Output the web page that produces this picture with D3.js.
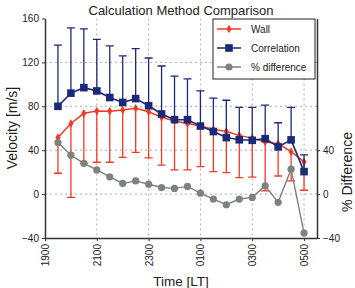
<!DOCTYPE html>
<html>
<head>
<meta charset="utf-8">
<script src="https://cdn.jsdelivr.net/npm/d3@7"></script>
<style>
  body { margin: 0; background: #fff; }
  svg text { font-family: "Liberation Sans", Arial, sans-serif; fill: #222; }
</style>
</head>
<body>
<div id="chart"></div>
<script>
// hours since midnight of the first day (19.5 = 1930 LT, 29 = 0500 LT)
const hours = [19.5, 20, 20.5, 21, 21.5, 22, 22.5, 23, 23.5, 24, 24.5, 25, 25.5, 26, 26.5, 27, 27.5, 28, 28.5, 29]
const wall = [51.5, 64.3, 73.6, 75.7, 75.5, 76.6, 78.2, 75, 70, 66.7, 64.3, 62, 59, 57, 53.5, 51, 47.5, 46, 38.7, 29.4]
const wallLow = [19, -3, 28, 29, 29, 33.5, 38, 33, 26.4, 22, 22, 25, 20.5, 19.5, 15, 15.5, 3, 16.5, 12, 3.5]
const corr = [80, 92, 97, 94, 88, 83.5, 87, 80.5, 73, 67.8, 67.8, 62, 57, 51.5, 49.5, 49, 50.5, 43, 49.4, 20.5]
const corrHigh = [135.7, 151.5, 150.6, 141, 135, 126, 132.5, 124, 116.7, 107.5, 105, 94, 87.5, 85.5, 79, 79, 81, 65, 79, 35.7]
const pctDiff = [47, 35.5, 28, 22, 15.7, 9.7, 12, 9, 6, 5.2, 7, 0.8, -4.5, -9.7, -4.5, -3, 7.5, -7.5, 22.7, -35.5]

const xTicks = [19, 21, 23, 25, 27, 29]
const xTickLabels = ['1900', '2100', '2300', '0100', '0300', '0500']
const yTicks = [-40, 0, 40, 80, 120, 160]
const y2Ticks = [-40, 0, 40]

const w = 355, h = 288
const margin = {top: 18.5, right: 38, bottom: 50, left: 45}

const red = '#f23a25', blue = '#1b2a78', gray = '#7c827e'

var svg = d3.select('#chart').append('svg')
  .attr('width', w)
  .attr('height', h)

var xScale = d3.scaleLinear().domain([19, 29.5]).range([margin.left, w - margin.right])
var yScale = d3.scaleLinear().domain([-40, 160]).range([h - margin.bottom, margin.top])

// grid
var grid = svg.append('g')
grid.selectAll('.hg').data([0, 40, 80, 120]).enter().append('line')
  .attr('x1', margin.left).attr('x2', w - margin.right)
  .attr('y1', d => yScale(d)).attr('y2', d => yScale(d))
  .attr('stroke', '#999').attr('stroke-width', 0.8).attr('stroke-dasharray', '2,3')
grid.selectAll('.vg').data(xTicks.slice(1)).enter().append('line')
  .attr('x1', d => xScale(d)).attr('x2', d => xScale(d))
  .attr('y1', margin.top).attr('y2', h - margin.bottom)
  .attr('stroke', '#999').attr('stroke-width', 0.8).attr('stroke-dasharray', '2,3')

// axes
var xAxis = d3.axisBottom(xScale).tickValues(xTicks)
  .tickFormat((d, i) => xTickLabels[i]).tickSizeInner(3).tickSizeOuter(0)
var gx = svg.append('g')
  .attr('transform', 'translate(0,' + (h - margin.bottom) + ')')
  .call(xAxis)
gx.selectAll('text')
  .attr('transform', 'rotate(-90)')
  .attr('x', -6).attr('y', 0).attr('dy', '0.35em')
  .style('text-anchor', 'end')

var yAxis = d3.axisLeft(yScale).tickValues(yTicks).tickSizeInner(3).tickSizeOuter(0)
var gy = svg.append('g')
  .attr('transform', 'translate(' + margin.left + ',0)')
  .call(yAxis)

var y2Axis = d3.axisRight(yScale).tickValues(y2Ticks).tickSizeInner(3).tickSizeOuter(0)
var gy2 = svg.append('g')
  .attr('transform', 'translate(' + (w - margin.right) + ',0)')
  .call(y2Axis)

svg.selectAll('.domain').attr('stroke', '#333').attr('stroke-width', 1.5)
svg.selectAll('.tick line').attr('stroke', '#333')
svg.selectAll('.tick text').style('font-size', '10px').attr('fill', '#222')

// labels
svg.append('text')
  .attr('x', 181).attr('y', 15)
  .attr('text-anchor', 'middle')
  .style('font-size', '13px')
  .text('Calculation Method Comparison')

svg.append('text')
  .attr('x', 181).attr('y', 286)
  .attr('text-anchor', 'middle')
  .style('font-size', '13.5px')
  .text('Time [LT]')

svg.append('text')
  .attr('transform', 'translate(17,128) rotate(-90)')
  .attr('text-anchor', 'middle')
  .style('font-size', '14px')
  .text('Velocity [m/s]')

svg.append('text')
  .attr('transform', 'translate(352,172) rotate(-90)')
  .attr('text-anchor', 'middle')
  .style('font-size', '14px')
  .text('% Difference')

var line = d3.line()
  .x((d, i) => xScale(hours[i]))
  .y(d => yScale(d))

var capW = 4

// wall: lower error bars
var gw = svg.append('g')
gw.selectAll('.eb').data(wall).enter().append('path')
  .attr('d', (d, i) => {
    var x = xScale(hours[i]), y0 = yScale(d), y1 = yScale(wallLow[i])
    return 'M' + x + ',' + y0 + 'V' + y1 + 'M' + (x - capW) + ',' + y1 + 'H' + (x + capW)
  })
  .attr('stroke', red).attr('stroke-width', 1.3).attr('fill', 'none')
gw.append('path').attr('d', line(wall))
  .attr('stroke', red).attr('stroke-width', 1.5).attr('fill', 'none')
var diamond = d3.symbol().type(d3.symbolDiamond).size(22)
gw.selectAll('.m').data(wall).enter().append('path')
  .attr('d', diamond)
  .attr('transform', (d, i) => 'translate(' + xScale(hours[i]) + ',' + yScale(d) + ')')
  .attr('fill', red)

// correlation: upper error bars
var gc = svg.append('g')
gc.selectAll('.eb').data(corr).enter().append('path')
  .attr('d', (d, i) => {
    var x = xScale(hours[i]), y0 = yScale(d), y1 = yScale(corrHigh[i])
    return 'M' + x + ',' + y0 + 'V' + y1 + 'M' + (x - capW) + ',' + y1 + 'H' + (x + capW)
  })
  .attr('stroke', blue).attr('stroke-width', 1.3).attr('fill', 'none')
gc.append('path').attr('d', line(corr))
  .attr('stroke', blue).attr('stroke-width', 1.6).attr('fill', 'none')
gc.selectAll('.m').data(corr).enter().append('rect')
  .attr('x', (d, i) => xScale(hours[i]) - 3.8)
  .attr('y', d => yScale(d) - 3.8)
  .attr('width', 7.6).attr('height', 7.6)
  .attr('fill', blue)

// % difference
var gp = svg.append('g')
gp.append('path').attr('d', line(pctDiff))
  .attr('stroke', gray).attr('stroke-width', 1.4).attr('fill', 'none')
gp.selectAll('.m').data(pctDiff).enter().append('circle')
  .attr('cx', (d, i) => xScale(hours[i]))
  .attr('cy', d => yScale(d))
  .attr('r', 3.6)
  .attr('fill', gray)

// legend
var lg = svg.append('g').attr('transform', 'translate(213,19)')
lg.append('rect').attr('width', 102).attr('height', 60)
  .attr('fill', '#fff').attr('stroke', '#222').attr('stroke-width', 1)
var items = [
  {name: 'Wall', color: red, mark: 'diamond'},
  {name: 'Correlation', color: blue, mark: 'square'},
  {name: '% difference', color: gray, mark: 'circle'}
]
items.forEach((it, i) => {
  var yy = 10 + i * 19
  lg.append('line').attr('x1', 4).attr('x2', 28).attr('y1', yy).attr('y2', yy)
    .attr('stroke', it.color).attr('stroke-width', 1.5)
  if (it.mark === 'diamond') {
    lg.append('path').attr('d', diamond).attr('transform', 'translate(16,' + yy + ')').attr('fill', it.color)
  } else if (it.mark === 'square') {
    lg.append('rect').attr('x', 12.2).attr('y', yy - 3.8).attr('width', 7.6).attr('height', 7.6).attr('fill', it.color)
  } else {
    lg.append('circle').attr('cx', 16).attr('cy', yy).attr('r', 3.6).attr('fill', it.color)
  }
  lg.append('text').attr('x', 38).attr('y', yy + 3.5)
    .style('font-size', '10px')
    .text(it.name)
})
</script>
</body>
</html>
